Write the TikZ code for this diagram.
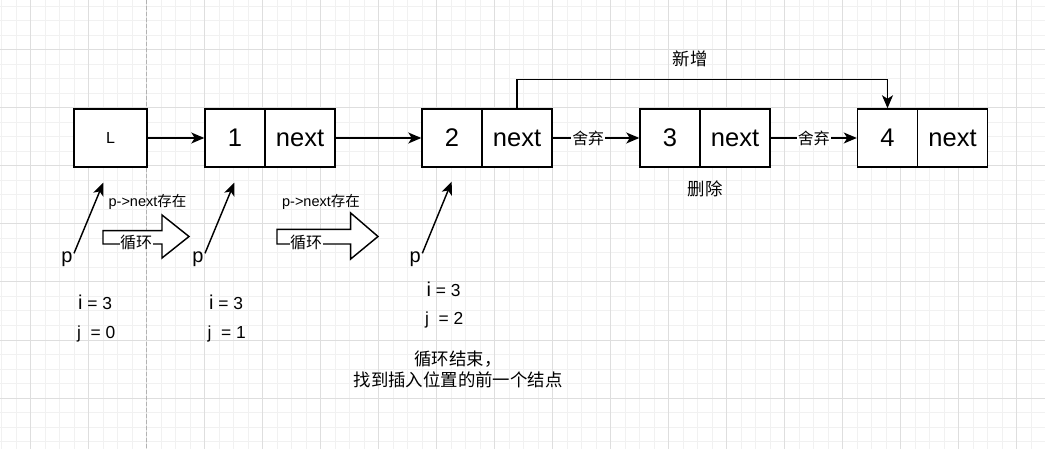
\documentclass[tikz,border=0pt]{standalone}
\usepackage{fontspec}
\setmainfont{Liberation Sans}
\newfontfamily\cjk{Noto Sans CJK SC}
\usetikzlibrary{arrows.meta}
\definecolor{gminor}{RGB}{241,241,241}
\definecolor{gmajor}{RGB}{222,222,222}
\definecolor{pageline}{RGB}{178,178,178}
\newcommand\fsz[1]{\fontsize{#1}{#1}\selectfont}
\begin{document}
\begin{tikzpicture}[x=1pt,y=-1pt,
  cell/.style={draw, line width=1.45pt, fill=white, minimum height=58pt, inner sep=0pt, font=\fsz{25.5}},
  edge/.style={line width=1.45pt, -{Stealth[length=13pt,width=11pt,inset=3.5pt]}},
  lbl/.style={fill=white, inner sep=1pt, font=\cjk\fsz{15.9}},
  ctext/.style={inner sep=0pt},
  btext/.style={inner sep=0pt, anchor=base west, font=\fsz{17.4}},
  ptext/.style={inner sep=0pt, anchor=base, font=\fsz{20}},
  blk/.style={draw, line width=1.45pt, fill=white, line join=miter}
]
\useasboundingbox (0,0) rectangle (1045,449);
\fill[white] (0,0) rectangle (1045,449);
% grid
\foreach \x in {1.5,16,...,1045} \draw[gminor, line width=1pt] (\x,0) -- (\x,449);
\foreach \y in {6.5,21,...,449} \draw[gminor, line width=1pt] (0,\y) -- (1045,\y);
\foreach \x in {30.5,88.5,...,1045} \draw[gmajor, line width=1pt] (\x,0) -- (\x,449);
\foreach \y in {50,108,...,449} \draw[gmajor, line width=1pt] (0,\y) -- (1045,\y);
\draw[pageline, line width=1pt, dash pattern=on 4pt off 2pt] (146.5,0) -- (146.5,449);

% list nodes
\node[cell, minimum width=73pt, font=\fsz{16}] (L) at (110.5,138) {L};
\node[cell, minimum width=60pt] (n1) at (235,138) {1};
\node[cell, minimum width=70pt] (x1) at (300,138) {next};
\node[cell, minimum width=60pt] (n2) at (452,138) {2};
\node[cell, minimum width=70pt] (x2) at (517,138) {next};
\node[cell, minimum width=60pt] (n3) at (670,138) {3};
\node[cell, minimum width=70pt] (x3) at (735,138) {next};
\node[cell, minimum width=60pt] (n4) at (887.5,138) {4};
\node[cell, minimum width=70pt] (x4) at (952.5,138) {next};

% connectors
\draw[edge] (L) -- (n1);
\draw[edge] (x1) -- (n2);
\draw[edge] (x2) -- node[lbl, pos=0.41] {舍弃} (n3);
\draw[edge] (x3) -- node[lbl] {舍弃} (n4);
\draw[edge] (x2.north) -- ++(0,-29) -| (n4.north);

\node[ctext, font=\cjk\fsz{17.4}] (add) at (690,58.5) {新增};
\node[ctext, font=\cjk\fsz{17.4}] (del) at (705,188.5) {删除};

% pointers
\node[ptext] (p1) at (67,262.5) {p};
\node[ptext] (p2) at (198,262.5) {p};
\node[ptext] (p3) at (415.3,262.5) {p};
\coordinate (ps1) at (74,253.3);
\coordinate (pt1) at (103.3,182.7);
\coordinate (ps2) at (205,253.3);
\coordinate (pt2) at (234.3,182.7);
\coordinate (ps3) at (422.3,253.3);
\coordinate (pt3) at (451.7,181.7);
\draw[edge] (ps1) -- (pt1);
\draw[edge] (ps2) -- (pt2);
\draw[edge] (ps3) -- (pt3);

% condition texts
\node[ctext, font=\fsz{14.5}] (c1) at (147.5,201.5) {p->next{\cjk 存在}};
\node[ctext, font=\fsz{14.5}] (c2) at (321,201.5) {p->next{\cjk 存在}};

% block arrows
\draw[blk] (103,230.7) -- (162,230.7) -- (162,215) -- (189,236.5) -- (162,258) -- (162,244) -- (103,244) -- cycle;
\node[ctext, fill=white, inner sep=0.5pt, font=\cjk\fsz{16}] (loop1) at (136,242) {循环};
\draw[blk] (277,229.3) -- (350.7,229.3) -- (350.7,213) -- (378,236.5) -- (350.7,259) -- (350.7,244) -- (277,244) -- cycle;
\node[ctext, fill=white, inner sep=0.5pt, font=\cjk\fsz{16}] (loop2) at (306,242.5) {循环};

% counters
\node[btext] (i1) at (78,309) {{\fsz{20}i} = 3};
\node[btext] (j1) at (77,338) {j\ \ = 0};
\node[btext] (i2) at (209,309) {{\fsz{20}i} = 3};
\node[btext] (j2) at (207.5,338) {j\ \ = 1};
\node[btext] (i3) at (426.5,296.7) {{\fsz{20}i} = 3};
\node[btext] (j3) at (425,325) {j\ \ = 2};

% conclusion
\node[ctext, align=center, font=\cjk\fontsize{17.4}{20.5}\selectfont] (end) at (458,369.2) {循环结束，\\找到插入位置的前一个结点};
\end{tikzpicture}
\end{document}
